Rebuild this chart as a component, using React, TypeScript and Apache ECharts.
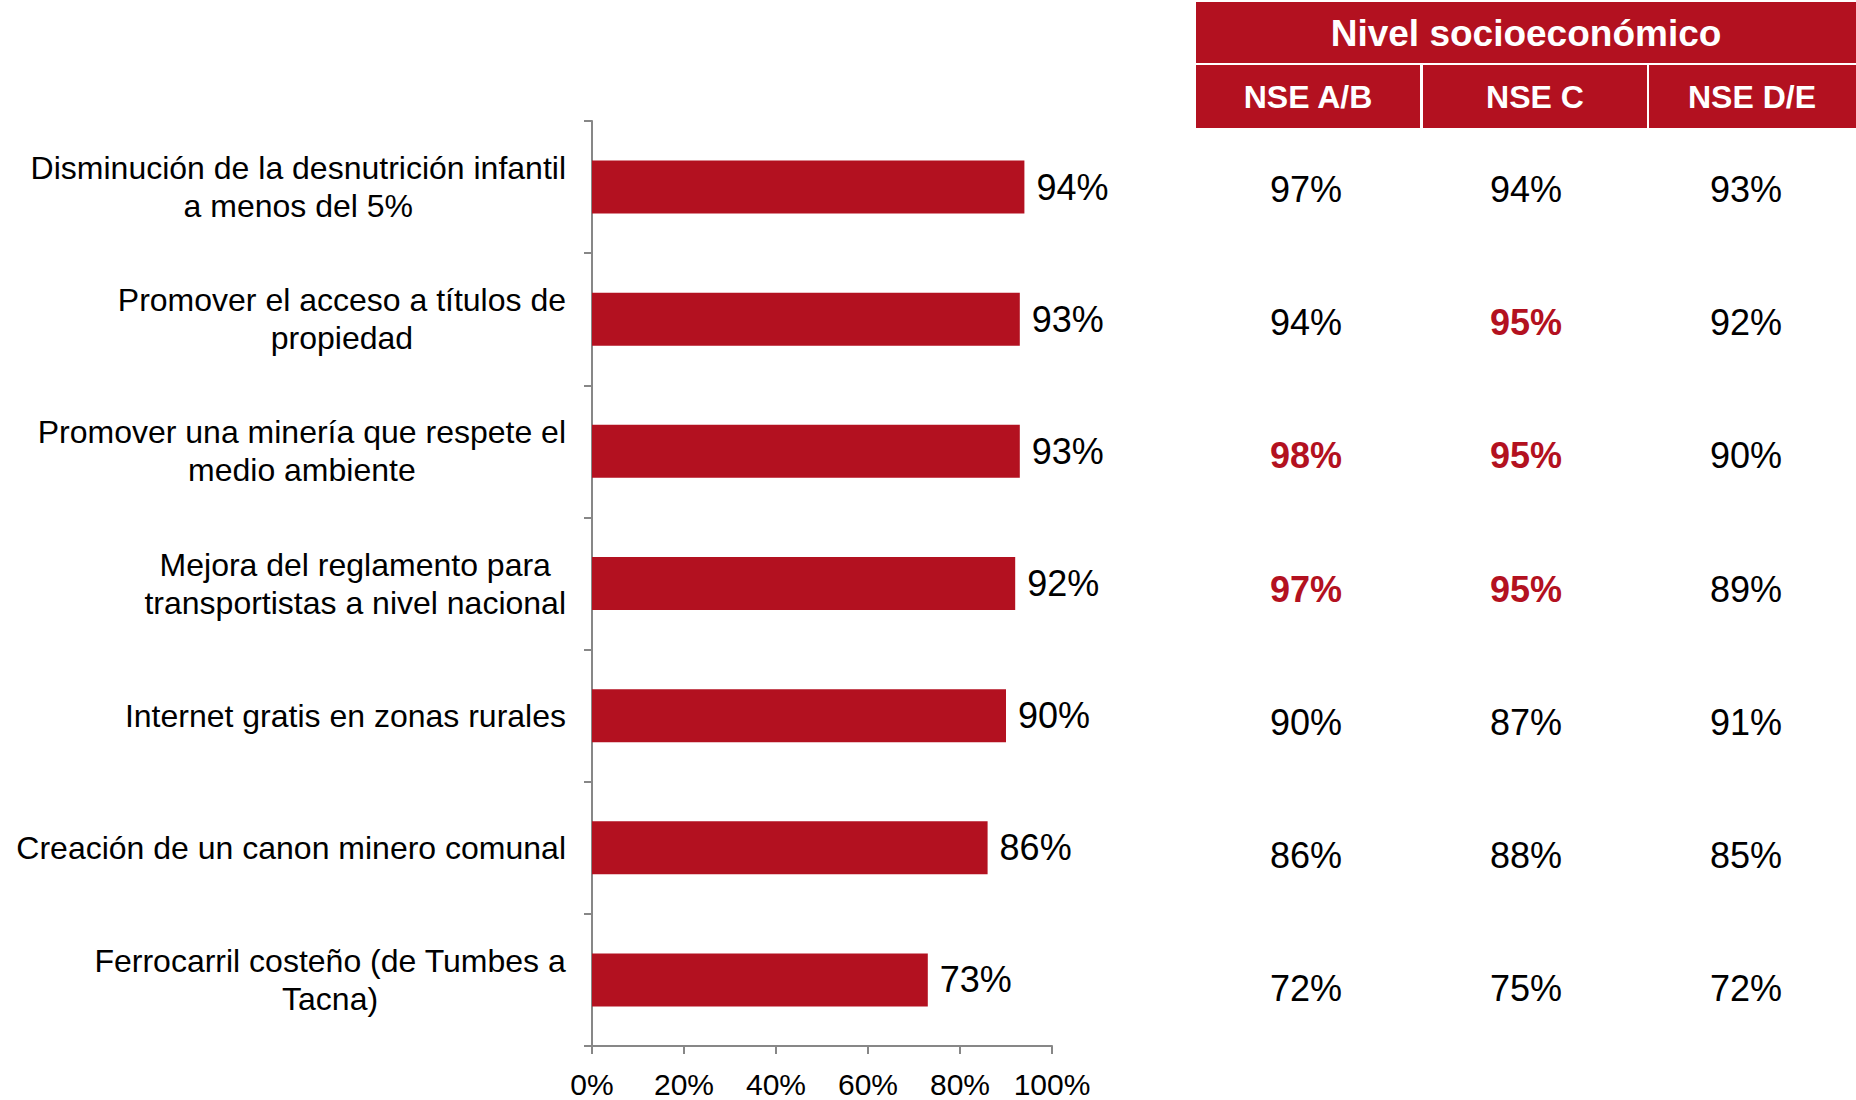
import React, { useEffect, useRef } from "react";
import * as echarts from "echarts";

const categories: string[] = [
  "Disminución de la desnutrición infantil\na menos del 5%",
  "Promover el acceso a títulos de\npropiedad",
  "Promover una minería que respete el\nmedio ambiente",
  "Mejora del reglamento para\ntransportistas a nivel nacional",
  "Internet gratis en zonas rurales",
  "Creación de un canon minero comunal",
  "Ferrocarril costeño (de Tumbes a\nTacna)",
];
const totalValues: number[] = [94, 93, 93, 92, 90, 86, 73];
const xTicks: number[] = [0, 20, 40, 60, 80, 100];

const tableTitle = "Nivel socioeconómico";
const nseGroups: string[] = ["NSE A/B", "NSE C", "NSE D/E"];
const nseAB: number[] = [97, 94, 98, 97, 90, 86, 72];
const nseC: number[] = [94, 95, 95, 95, 87, 88, 75];
const nseDE: number[] = [93, 92, 90, 89, 91, 85, 72];
// [row, column] of cells marked as significantly higher
const significant: number[][] = [
  [1, 1],
  [2, 0],
  [2, 1],
  [3, 0],
  [3, 1],
];

const RED = "#B31120";
const AXIS_GRAY = "#878787";
const FONT = "'Liberation Sans', Arial, Helvetica, sans-serif";

export default function App() {
  const ref = useRef<HTMLDivElement>(null);

  useEffect(() => {
    if (!ref.current) return;
    const chart = echarts.init(ref.current, undefined, { renderer: "svg" });

    const columns = [nseAB, nseC, nseDE];
    const isSig = (r: number, c: number) =>
      significant.some((p) => p[0] === r && p[1] === c);
    const tableData: any[] = [];
    columns.forEach((col, c) => {
      col.forEach((v, r) => {
        const sig = isSig(r, c);
        tableData.push({
          value: [c, r, v],
          label: sig
            ? { fontWeight: "bold", color: RED }
            : { fontWeight: "normal", color: "#000" },
        });
      });
    });

    const option: any = {
      animation: false,
      backgroundColor: "#fff",
      textStyle: { fontFamily: FONT },
      grid: [
        { left: 592, top: 121, width: 460, height: 925, containLabel: false },
        { left: 1196, top: 123, width: 668, height: 932, containLabel: false },
      ],
      xAxis: [
        {
          gridIndex: 0,
          type: "value",
          min: xTicks[0],
          max: xTicks[xTicks.length - 1],
          interval: xTicks[1] - xTicks[0],
          splitLine: { show: false },
          axisLine: { show: true, lineStyle: { color: AXIS_GRAY, width: 2 } },
          axisTick: { show: true, length: 8, lineStyle: { color: AXIS_GRAY, width: 2 } },
          axisLabel: {
            formatter: "{value}%",
            fontSize: 30,
            color: "#000",
            margin: 23,
            fontFamily: FONT,
          },
        },
        {
          gridIndex: 1,
          type: "category",
          data: nseGroups,
          show: false,
        },
      ],
      yAxis: [
        {
          gridIndex: 0,
          type: "category",
          data: categories,
          inverse: true,
          axisLine: { show: true, lineStyle: { color: AXIS_GRAY, width: 2 } },
          axisTick: { show: true, length: 8, lineStyle: { color: AXIS_GRAY, width: 2 } },
          axisLabel: {
            margin: 26,
            align: "right",
            formatter: (v: string) =>
              v
                .split("\n")
                .map((l) => `{c|${l}}`)
                .join("\n"),
            rich: {
              c: {
                align: "center",
                fontSize: 32,
                lineHeight: 38,
                color: "#000",
                fontFamily: FONT,
              },
            },
          },
        },
        {
          gridIndex: 1,
          type: "category",
          data: categories,
          inverse: true,
          show: false,
        },
      ],
      series: [
        {
          type: "bar",
          xAxisIndex: 0,
          yAxisIndex: 0,
          data: totalValues,
          barWidth: 53,
          itemStyle: { color: RED },
          label: {
            show: true,
            position: "right",
            distance: 12,
            formatter: "{c}%",
            fontSize: 36,
            color: "#000",
            fontFamily: FONT,
          },
        },
        {
          type: "scatter",
          xAxisIndex: 1,
          yAxisIndex: 1,
          data: tableData,
          symbolSize: 1,
          itemStyle: { color: "rgba(0,0,0,0)", opacity: 1 },
          label: {
            show: true,
            position: "inside",
            opacity: 1,
            formatter: (p: any) => `${p.value[2]}%`,
            fontSize: 36,
            fontFamily: FONT,
          },
        },
      ],
      graphic: [
        {
          type: "rect",
          shape: { x: 1196, y: 2, width: 660, height: 61 },
          style: { fill: RED },
        },
        {
          type: "text",
          x: 1526,
          y: 33,
          style: {
            text: tableTitle,
            fill: "#fff",
            font: `bold 37px ${FONT}`,
            textAlign: "center",
            textVerticalAlign: "middle",
          },
        },
        {
          type: "rect",
          shape: { x: 1196, y: 65, width: 224, height: 63 },
          style: { fill: RED },
        },
        {
          type: "rect",
          shape: { x: 1423, y: 65, width: 224, height: 63 },
          style: { fill: RED },
        },
        {
          type: "rect",
          shape: { x: 1649, y: 65, width: 207, height: 63 },
          style: { fill: RED },
        },
        ...nseGroups.map((g, i) => ({
          type: "text",
          x: [1308, 1535, 1752][i],
          y: 97,
          style: {
            text: g,
            fill: "#fff",
            font: `bold 32px ${FONT}`,
            textAlign: "center",
            textVerticalAlign: "middle",
          },
        })),
      ],
    };

    chart.setOption(option);
    return () => chart.dispose();
  }, []);

  return (
    <div
      ref={ref}
      style={{ position: "absolute", left: 0, top: 0, width: 1856, height: 1100 }}
    />
  );
}
